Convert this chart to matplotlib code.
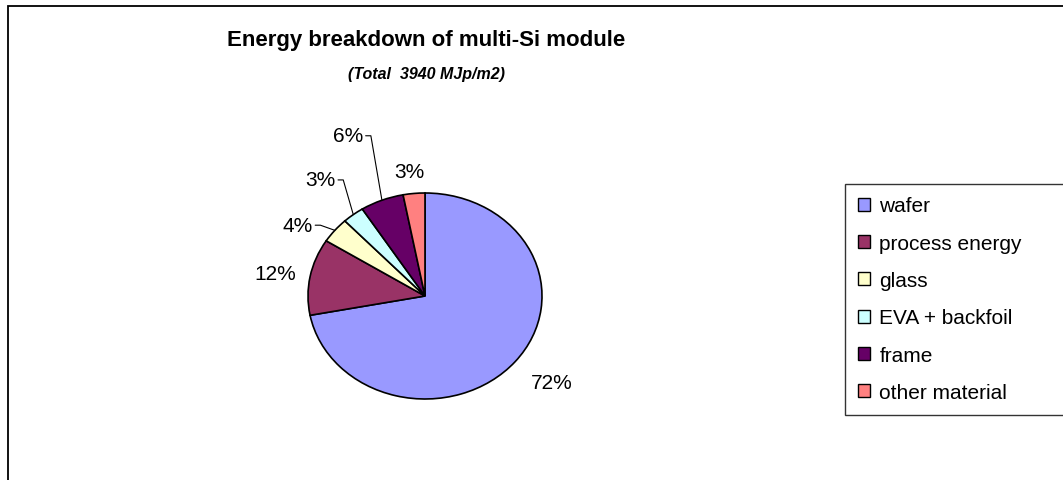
import numpy as np
import matplotlib.pyplot as plt
from matplotlib.patches import Rectangle

plt.rcParams['font.family'] = ['Liberation Sans', 'DejaVu Sans']

# data
categories = ["wafer", "process energy", "glass", "EVA + backfoil", "frame", "other material"]
shares = [72, 12, 4, 3, 6, 3]
colors = ["#9999FF", "#993366", "#FFFFCC", "#CCFFFF", "#660066", "#FF8080"]
title = "Energy breakdown of multi-Si module"
subtitle = "(Total  3940 MJp/m2)"

# label placement (distance from centre, angle shift in deg, leader line?)
label_dist = [1.37, 1.30, 1.29, 1.44, 1.69, 1.22]
label_shift = [1.7, 1.3, 7.4, 0.7, 1.4, 1.0]
leader = [False, False, True, True, True, False]

W, H = 1063, 481
fig = plt.figure(figsize=(W / 100, H / 100), dpi=100)

# chart area border (cut off on right and bottom)
fig.patches.append(Rectangle((8 / W, -0.1), 1.2, (H - 7) / H + 0.1, transform=fig.transFigure,
                             fill=False, edgecolor="black", lw=1.3))

# pie axes, squashed a bit like the original
cx, cy, rx, ry = 425, 297, 117, 103
ax = fig.add_axes([(cx - rx) / W, (H - cy - ry) / H, 2 * rx / W, 2 * ry / H])
wedges, _ = ax.pie(shares, colors=colors, startangle=90, counterclock=False,
                   wedgeprops=dict(edgecolor="black", linewidth=1.2))
ax.set_aspect("auto")
ax.set_xlim(-1, 1)
ax.set_ylim(-1, 1)
ax.axis("off")

for i, w in enumerate(wedges):
    mid = np.deg2rad((w.theta1 + w.theta2) / 2)
    ang = mid + np.deg2rad(label_shift[i])
    tx, ty = label_dist[i] * np.cos(ang), label_dist[i] * np.sin(ang)
    txt = "%d%%" % shares[i]
    if leader[i]:
        ax.annotate(txt, xy=(np.cos(mid), np.sin(mid)), xytext=(tx, ty),
                    ha="center", va="center", fontsize=15,
                    arrowprops=dict(arrowstyle="-", lw=0.8, color="black",
                                    connectionstyle="arc,angleA=0,armA=8,rad=0",
                                    relpos=(1, 0.5), patchA=None, shrinkA=2, shrinkB=0),
                    annotation_clip=False)
    else:
        ax.text(tx, ty, txt, ha="center", va="center", fontsize=15)

fig.text(426 / W, 1 - 41 / H, title, ha="center", va="center", fontsize=16, fontweight="bold")
fig.text(426 / W, 1 - 75 / H, subtitle, ha="center", va="center", fontsize=11.5,
         fontweight="bold", fontstyle="italic")

# legend box runs off the right edge like the original
leg = fig.legend(wedges, categories, loc="upper left",
                 bbox_to_anchor=(845 / W, 1 - 185 / H - 0.01, 300 / W, 0.01), mode="expand",
                 fontsize=15, frameon=True, fancybox=False, edgecolor="black",
                 handlelength=0.6, handleheight=0.6, handletextpad=0.45,
                 labelspacing=0.88, borderpad=0.6, borderaxespad=0)
leg.get_frame().set_linewidth(1.0)
for h in leg.legend_handles:
    h.set_linewidth(1.0)

fig.savefig("out.png", dpi=100)
